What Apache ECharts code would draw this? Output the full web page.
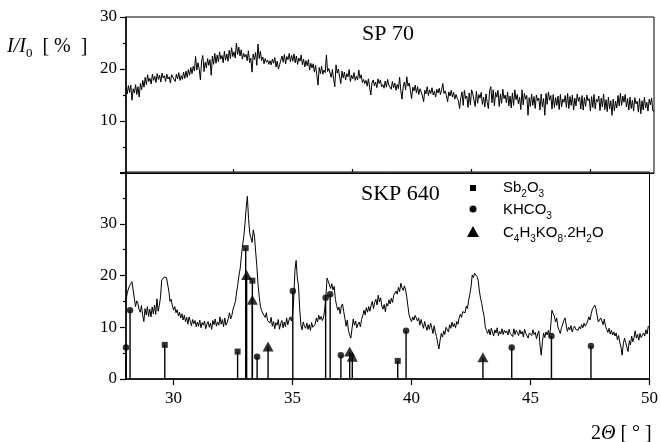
<!DOCTYPE html>
<html><head><meta charset="utf-8">
<script src="https://cdn.jsdelivr.net/npm/echarts@6/dist/echarts.min.js"></script>
<style>html,body{margin:0;padding:0;background:#fff}#c{width:661px;height:442px}</style>
</head><body><div id="c"></div>
<script>
// sample grid of the two scans (2-theta, degrees)
const xStart = 28, xStep = 0.05;
// SP 70 intensity, I/I0 [%]
const sp70 = [
16.3,15.2,16.8,15.5,16.9,14.0,16.2,15.4,17.0,15.1,16.6,14.6,17.2,16.0,17.8,16.5,18.4,17.0,18.9,17.6,
18.2,17.1,19.0,17.8,18.6,17.4,19.1,18.0,18.8,17.5,19.2,18.3,18.7,17.6,19.0,18.1,18.5,17.3,18.9,18.4,
18.5,17.6,19.0,18.1,19.3,17.8,18.7,18.0,19.4,18.2,19.6,18.4,19.9,18.8,20.3,19.1,20.5,19.6,22.4,19.8,
21.2,20.0,17.9,21.6,22.6,19.5,21.3,20.2,22.0,20.7,21.8,18.8,22.5,20.9,23.0,21.1,22.7,21.4,23.3,21.9,
22.6,21.2,23.4,21.7,22.9,21.5,23.6,22.0,24.1,22.4,23.3,22.1,25.0,22.8,24.2,22.5,23.7,21.9,23.0,22.3,
22.8,21.6,23.5,21.2,22.1,19.4,22.9,21.8,23.2,20.7,24.8,22.0,23.4,21.6,22.3,21.0,22.0,21.3,21.7,20.9,
21.6,20.8,21.9,21.1,22.2,20.4,21.5,20.0,20.8,21.7,22.5,21.3,22.8,21.0,22.4,21.8,23.0,21.4,22.6,21.5,
22.9,21.2,22.5,20.9,22.1,21.5,22.7,20.8,21.9,20.4,21.6,20.6,21.8,19.8,21.1,20.2,21.0,19.4,20.7,18.9,
16.9,20.3,19.1,20.5,19.0,19.8,19.3,22.7,19.5,20.1,19.8,18.4,19.9,18.0,16.6,20.8,19.2,20.0,18.5,17.2,
19.6,18.3,19.4,17.9,19.1,18.5,19.9,17.6,18.8,18.1,19.3,17.8,18.6,17.9,19.8,18.2,18.9,17.4,18.0,17.2,
17.8,16.7,18.1,16.5,15.0,17.3,17.9,16.8,17.5,16.4,18.1,17.2,17.9,16.6,17.0,16.3,17.7,16.5,18.0,16.9,
17.2,16.1,17.6,16.4,17.3,15.9,17.0,16.2,18.4,15.8,14.2,16.6,17.5,16.0,18.5,16.7,17.3,15.9,14.3,16.5,
15.8,16.9,15.4,16.6,15.1,16.2,15.6,14.8,13.7,15.9,15.2,16.6,14.9,16.0,15.3,16.4,15.0,15.7,14.6,16.1,
15.4,16.3,15.1,16.0,17.2,15.3,15.8,14.9,13.7,15.6,14.8,15.9,14.6,15.5,14.2,15.1,14.4,13.9,12.4,14.5,
15.6,13.0,15.9,14.3,14.8,12.6,15.4,13.1,16.0,15.2,14.9,12.8,15.7,13.4,15.1,14.4,15.5,13.2,14.6,12.7,
15.2,13.6,12.4,15.8,16.6,13.5,16.0,12.9,15.5,14.6,15.9,12.8,15.2,13.4,16.1,14.3,15.0,13.5,15.6,12.9,
14.8,12.5,15.4,13.0,16.0,14.1,15.1,13.3,14.6,12.2,16.0,13.1,15.3,14.2,14.9,11.1,14.5,12.8,15.2,13.0,
14.7,12.4,15.0,13.9,14.4,12.1,15.2,12.7,14.3,11.1,15.3,13.2,15.6,14.0,14.9,12.3,15.1,12.6,14.5,13.0,
14.8,12.2,15.1,12.7,14.2,13.6,14.9,12.6,15.3,12.4,14.7,13.0,15.0,12.1,14.4,12.9,15.2,13.8,14.6,12.3,
14.9,12.1,14.5,12.8,15.0,13.9,14.3,11.9,14.7,12.6,15.1,12.3,14.2,13.7,14.8,12.0,14.4,12.7,15.2,12.2,
14.1,11.8,14.6,12.3,13.9,11.1,14.2,12.0,13.8,12.5,14.9,12.9,15.3,13.0,14.8,13.6,15.1,12.7,14.3,12.1,
14.6,12.4,14.0,11.9,14.5,13.3,13.8,11.7,14.3,11.4,13.9,12.1,14.6,12.5,13.6,11.9,14.2,13.1,14.4,12.0,
11.8];
// SKP 640 intensity, I/I0 [%]
const skp640 = [
15.0,16.6,17.4,18.0,18.3,18.8,17.2,15.6,14.0,15.1,14.6,13.4,12.9,14.2,12.3,11.1,13.6,12.4,14.0,12.1,
13.5,12.0,13.9,12.6,14.3,12.5,15.5,13.1,14.2,15.8,19.1,18.8,19.7,19.8,19.6,19.3,17.0,15.0,15.4,14.1,
13.3,14.0,12.8,13.4,12.2,12.9,11.8,12.6,11.4,12.3,11.1,11.9,10.6,12.0,11.2,10.3,11.5,10.7,11.3,10.1,
11.0,10.2,11.4,9.9,10.9,10.4,11.2,9.7,10.6,11.1,10.0,10.8,9.6,11.3,10.5,11.6,10.2,11.0,10.4,12.0,
10.6,11.5,10.1,11.8,10.4,10.9,11.7,12.8,11.6,12.3,13.5,14.2,15.0,16.8,18.3,20.1,21.4,23.8,25.9,27.5,
30.0,33.0,35.3,31.0,28.2,27.3,26.4,28.8,27.6,24.5,21.7,18.2,15.8,14.0,13.2,12.7,12.4,11.9,12.8,11.3,
11.6,10.8,11.9,10.2,11.1,9.7,10.9,10.4,11.5,9.6,10.7,11.3,9.9,11.0,10.1,11.8,10.5,11.4,12.0,11.2,
12.6,15.5,21.0,22.9,19.5,18.0,13.5,10.4,9.5,11.0,10.2,9.8,10.8,9.6,10.5,9.4,10.9,10.0,9.7,10.6,
11.8,11.0,12.3,11.5,12.1,11.3,11.8,13.5,16.0,19.5,18.9,18.2,17.5,18.4,17.2,17.9,15.4,14.2,13.3,13.9,
12.6,14.1,14.5,13.0,11.7,10.2,11.4,9.3,8.5,7.9,9.8,11.6,10.4,11.2,9.9,10.6,11.0,10.1,11.5,12.2,
13.3,12.4,13.8,12.9,14.0,13.1,14.2,15.0,13.6,14.8,15.4,14.3,16.2,14.9,15.7,14.1,13.5,14.4,13.0,14.6,
14.1,15.3,14.5,15.6,14.8,16.2,15.9,17.0,16.4,17.7,16.9,18.5,17.6,17.1,18.0,17.2,15.8,14.0,12.3,11.6,
11.1,12.0,11.4,12.3,12.6,11.2,11.8,10.4,11.5,10.6,9.8,11.1,10.2,9.4,10.5,9.6,10.8,9.9,8.8,10.3,
9.0,8.2,6.9,5.8,7.5,8.8,8.1,9.3,8.6,10.0,10.2,9.1,10.5,9.8,11.0,10.1,10.7,9.9,11.1,10.6,
11.8,12.5,11.9,13.0,13.3,12.8,14.1,13.6,15.2,16.4,17.8,20.1,19.6,20.4,20.2,19.8,19.1,17.0,15.6,14.6,
13.2,12.1,10.0,9.4,8.8,9.6,8.5,9.8,9.1,8.3,9.5,8.9,9.9,8.4,9.2,8.7,9.7,8.6,9.4,8.9,
9.3,8.5,9.6,8.8,9.1,8.2,9.7,8.6,9.4,9.0,8.4,9.5,8.7,9.2,8.1,9.6,8.8,9.0,7.9,8.9,
9.2,8.4,9.5,8.6,9.0,7.8,8.7,9.3,6.5,4.6,7.2,8.9,8.0,9.1,8.5,9.4,8.2,10.3,13.3,12.6,
12.2,11.0,11.8,10.1,9.4,8.8,9.9,10.6,11.3,11.8,10.4,9.2,10.0,9.5,10.3,9.1,9.8,10.2,9.6,9.9,
9.4,10.1,9.7,10.5,9.9,10.8,10.2,10.6,11.2,12.0,11.4,12.6,13.5,13.9,14.3,13.6,12.2,11.0,10.8,11.8,
11.2,10.5,11.6,10.2,9.6,9.0,9.8,8.7,9.4,8.5,9.1,8.3,8.9,7.6,8.4,7.1,6.2,4.6,6.8,7.9,
7.0,6.1,5.3,7.4,6.6,8.3,7.2,8.0,9.3,7.9,8.6,7.5,8.8,8.0,7.7,8.9,8.3,9.5,8.7,10.2,
10.0];
// reference lines [2-theta, relative intensity]
const sb2o3 = [[29.63,6.6],[32.69,5.3],[33.03,25.3],[33.31,19.0],[39.42,3.5]];
const khco3 = [[28.0,6.1],[28.17,13.3],[33.51,4.3],[35.01,17.0],[36.39,15.7],[36.58,16.4],[37.03,4.6],[39.77,9.3],[44.21,6.1],[45.88,8.3],[47.54,6.4]];
const c4h3 = [[33.07,20.1],[33.31,15.3],[33.97,6.3],[37.40,5.3],[37.51,4.3],[43.0,4.2]];
const xTicks = [30,35,40,45,50];
const xMinorTicks = [32.5,37.5,42.5,47.5];

const toPairs = arr => arr.map((v,i)=>[+(xStart + i*xStep).toFixed(2), v]);
const serif = 'Liberation Serif';
const sans = 'Liberation Sans';

const chart = echarts.init(document.getElementById('c'), null, {renderer:'canvas'});
const yLabel = {fontFamily:serif, fontSize:17, color:'#000', margin:9};
const option = {
  animation:false,
  backgroundColor:'#fff',
  grid:[
    {left:126, top:17, width:528, height:156, show:true, borderColor:'#000', borderWidth:1, backgroundColor:'transparent'},
    {left:126, top:172, width:528, height:207, show:true, borderColor:'#000', borderWidth:1, backgroundColor:'transparent'}
  ],
  xAxis:[
    {gridIndex:0, type:'value', min:28, max:50, axisLine:{show:true, lineStyle:{color:'#000', width:1}}, axisTick:{show:false}, axisLabel:{show:false}, splitLine:{show:false}},
    {gridIndex:1, type:'value', min:28, max:50, axisLine:{show:true, lineStyle:{color:'#000', width:1.5}},
      axisTick:{show:true, customValues:xTicks, length:6, lineStyle:{color:'#000', width:1.2}},
      axisLabel:{show:true, customValues:xTicks, fontFamily:serif, fontSize:17, color:'#000', margin:11},
      splitLine:{show:false}},
    {gridIndex:1, type:'value', min:28, max:50, axisLine:{show:false},
      axisTick:{show:true, customValues:xMinorTicks, length:3, lineStyle:{color:'#000', width:1.2}},
      axisLabel:{show:false}, splitLine:{show:false}}
  ],
  yAxis:[
    {gridIndex:0, type:'value', min:0, max:30, interval:10,
      axisLine:{show:true, lineStyle:{color:'#000', width:1.5}},
      axisTick:{show:true, length:6, lineStyle:{color:'#000', width:1.2}},
      minorTick:{show:true, splitNumber:2, length:3, lineStyle:{color:'#000', width:1.2}},
      axisLabel:Object.assign({}, yLabel, {formatter:v => v===0 ? '' : String(v)}),
      splitLine:{show:false}},
    {gridIndex:1, type:'value', min:0, max:40, interval:10,
      axisLine:{show:true, lineStyle:{color:'#000', width:1.5}},
      axisTick:{show:true, length:6, lineStyle:{color:'#000', width:1.2}},
      minorTick:{show:true, splitNumber:2, length:3, lineStyle:{color:'#000', width:1.2}},
      axisLabel:Object.assign({}, yLabel, {formatter:v => v===40 ? '' : String(v)}),
      splitLine:{show:false}}
  ],
  series:[
    {type:'line', xAxisIndex:0, yAxisIndex:0, data:toPairs(sp70), showSymbol:false, symbol:'none', lineStyle:{color:'#000', width:1}, z:3},
    {type:'line', xAxisIndex:1, yAxisIndex:1, data:toPairs(skp640), showSymbol:false, symbol:'none', lineStyle:{color:'#000', width:1}, z:3},
    {type:'custom', xAxisIndex:1, yAxisIndex:1, data:sb2o3.concat(khco3, c4h3),
      renderItem:(params, api) => {
        const p0 = api.coord([api.value(0), 0]);
        const p1 = api.coord([api.value(0), api.value(1)]);
        return {type:'line', shape:{x1:p0[0], y1:p0[1], x2:p1[0], y2:p1[1]}, style:{stroke:'#000', lineWidth:1.4}};
      }, z:4},
    {type:'scatter', xAxisIndex:1, yAxisIndex:1, data:sb2o3, symbol:'rect', symbolSize:6, itemStyle:{color:'#000'}, z:5},
    {type:'scatter', xAxisIndex:1, yAxisIndex:1, data:khco3, symbol:'circle', symbolSize:6.5, itemStyle:{color:'#000'}, z:5},
    {type:'scatter', xAxisIndex:1, yAxisIndex:1, data:c4h3, symbol:'triangle', symbolSize:[11,10], itemStyle:{color:'#000'}, z:5}
  ],
  graphic:[
    {type:'text', left:362, top:23, style:{text:'SP 70', fontFamily:serif, fontSize:22, fill:'#000'}},
    {type:'text', left:361, top:183, style:{text:'SKP 640', fontFamily:serif, fontSize:22, fill:'#000'}},
    {type:'rect', shape:{x:470, y:185, width:6, height:6}, style:{fill:'#000'}},
    {type:'circle', shape:{cx:473, cy:209, r:3.5}, style:{fill:'#000'}},
    {type:'polygon', shape:{points:[[473,226],[467,237],[479,237]]}, style:{fill:'#000'}},
    {type:'text', x:503, y:188, style:{text:'{n|Sb}{s|2}{n|O}{s|3}', verticalAlign:'middle',
      rich:{n:{fontFamily:sans, fontSize:15, lineHeight:22, fill:'#000'}, s:{fontFamily:sans, fontSize:10, lineHeight:10, verticalAlign:'bottom', fill:'#000'}}}},
    {type:'text', x:503, y:210, style:{text:'{n|KHCO}{s|3}', verticalAlign:'middle',
      rich:{n:{fontFamily:sans, fontSize:15, lineHeight:22, fill:'#000'}, s:{fontFamily:sans, fontSize:10, lineHeight:10, verticalAlign:'bottom', fill:'#000'}}}},
    {type:'text', x:503, y:233, style:{text:'{n|C}{s|4}{n|H}{s|3}{n|KO}{s|8}{n|.2H}{s|2}{n|O}', verticalAlign:'middle',
      rich:{n:{fontFamily:sans, fontSize:15, lineHeight:22, fill:'#000'}, s:{fontFamily:sans, fontSize:10, lineHeight:10, verticalAlign:'bottom', fill:'#000'}}}},
    {type:'text', x:7, y:47, style:{text:'{i|I/I}{s|0}{n|  [ %  ]}', verticalAlign:'middle',
      rich:{i:{fontFamily:serif, fontStyle:'italic', fontSize:20, lineHeight:26, fill:'#000'},
            s:{fontFamily:serif, fontSize:13, lineHeight:12, verticalAlign:'bottom', fill:'#000'},
            n:{fontFamily:serif, fontSize:20, lineHeight:26, fill:'#000'}}}},
    {type:'text', x:591, y:434, style:{text:'{n|2}{i|Θ}{n| [ ° ]}', verticalAlign:'middle',
      rich:{i:{fontFamily:serif, fontStyle:'italic', fontSize:20, lineHeight:24, fill:'#000'},
            n:{fontFamily:serif, fontSize:20, lineHeight:24, fill:'#000'}}}}
  ]
};
chart.setOption(option);
</script>
</body></html>
